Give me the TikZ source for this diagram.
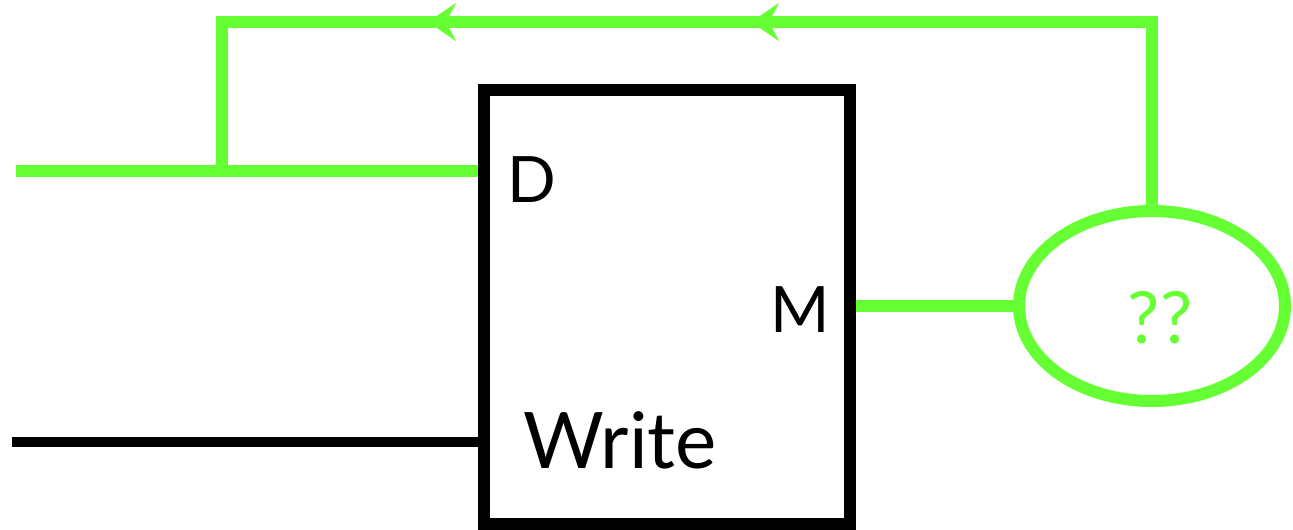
\documentclass[tikz,border=0pt]{standalone}
\usepackage{fontspec}
\setmainfont{Lato}
\usetikzlibrary{shapes.geometric,arrows.meta,decorations.markings}
\definecolor{wire}{RGB}{102,255,51}
\tikzset{
  gwire/.style={draw=wire, line width=12pt},
  bwire/.style={draw=black, line width=10pt},
  regbox/.style={draw=black, line width=12pt, rectangle, minimum width=366pt, minimum height=434pt, inner sep=0pt},
  port/.style={font=\fontsize{64}{64}\selectfont, text=black, inner sep=0pt},
  flowtip/.tip={Stealth[length=28pt, width=38pt, inset=10pt]},
}
\begin{document}
\begin{tikzpicture}[x=1pt, y=-1pt]
  \useasboundingbox (0,0) rectangle (1293,530);

  % register block
  \node[regbox] (box) at (667,307) {};
  \node[port] (d) at (532,180) {D};
  \node[port] (m) at (800,310) {M};
  \node[port, font=\fontsize{78}{78}\selectfont] (wr) at (620,440) {Write};

  % unknown function
  \node[ellipse, draw=wire, line width=12pt, minimum width=266pt, minimum height=190pt, inner sep=0pt] (q) at (1152,306) {};
  \node[text=wire, font=\fontsize{72}{72}\selectfont, inner sep=0pt] (qq) at (1160,318) {??};

  % wire ends and corners
  \coordinate (din) at (16,171);
  \coordinate (jn) at (222,171);
  \coordinate (win) at (12,442);
  \coordinate (tr) at (1152,22);

  % data input
  \path[gwire] (din) -- (box.west |- din);
  % write enable
  \path[bwire] (win) -- (box.west |- win);
  % output to the unknown block
  \path[gwire] (box.east |- q.west) -- (q.west);
  % feedback loop
  \path[gwire, postaction={decorate}, decoration={markings,
      mark=at position 584pt with {\arrow[wire]{flowtip}},
      mark=at position 907pt with {\arrow[wire]{flowtip}}}]
    (q.north) -- (tr) -| (jn);
\end{tikzpicture}
\end{document}
